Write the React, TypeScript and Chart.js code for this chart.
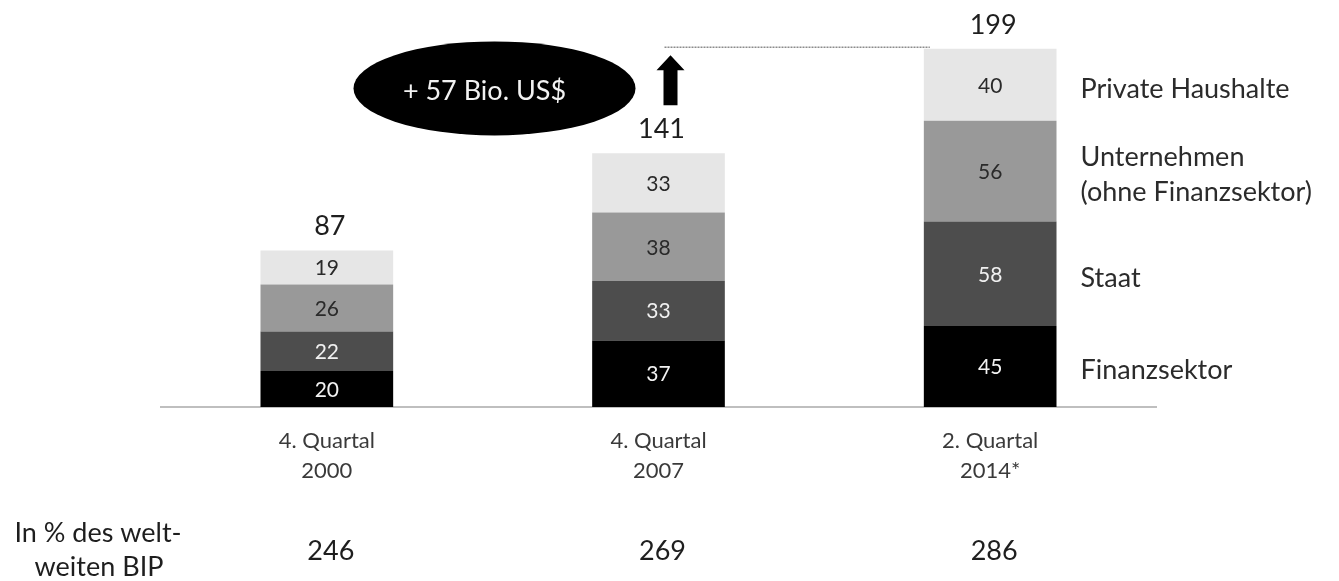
import React, { useEffect, useRef } from "react";
import { Chart, registerables } from "chart.js";

Chart.register(...registerables);

// ---- data ----
const categories = [
  ["4. Quartal", "2000"],
  ["4. Quartal", "2007"],
  ["2. Quartal", "2014*"],
];
const finanzsektor = [20, 37, 45];
const staat = [22, 33, 58];
const unternehmen = [26, 38, 56];
const privateHaushalte = [19, 33, 40];
const totals = [87, 141, 199];
const bipShare = [246, 269, 286];
const seriesNames = ["Finanzsektor", "Staat", "Unternehmen", "Private Haushalte"];
const legendLabels = [
  ["Finanzsektor"],
  ["Staat"],
  ["Unternehmen", "(ohne Finanzsektor)"],
  ["Private Haushalte"],
];
const rowLabel = ["In % des welt-", "weiten BIP"];
const annotationText = "+ 57 Bio. US$";

// ---- styles ----
const FONT = "Lato, 'Open Sans', sans-serif";
const barColors = ["#000000", "#4d4d4d", "#999999", "#e6e6e6"];
const segLabelColors = ["#f2f2f2", "#f0f0f0", "#2a2a2a", "#2a2a2a"];

const overlayPlugin = {
  id: "overlay",
  afterDatasetsDraw(chart: any) {
    const { ctx } = chart;
    const xScale = chart.scales.x;
    const yScale = chart.scales.y;
    const n = chart.data.datasets.length;
    ctx.save();
    ctx.textAlign = "center";
    ctx.textBaseline = "middle";

    // segment labels
    for (let d = 0; d < n; d++) {
      const meta = chart.getDatasetMeta(d);
      const ds = chart.data.datasets[d];
      meta.data.forEach((bar: any, i: number) => {
        ctx.font = `21px ${FONT}`;
        ctx.fillStyle = segLabelColors[d];
        ctx.fillText(String(ds.data[i]), bar.x, (bar.y + bar.base) / 2 + 1);
      });
    }

    // totals above bars
    const topMeta = chart.getDatasetMeta(n - 1);
    topMeta.data.forEach((bar: any, i: number) => {
      ctx.font = `27px ${FONT}`;
      ctx.fillStyle = "#1e1e1e";
      ctx.fillText(String(totals[i]), bar.x + 3, bar.y - 24);
    });

    // legend labels to the right of the last bar
    const last = categories.length - 1;
    ctx.textAlign = "left";
    ctx.font = `27px ${FONT}`;
    ctx.fillStyle = "#2b2b2b";
    for (let d = 0; d < n; d++) {
      const bar: any = chart.getDatasetMeta(d).data[last];
      const cy = (bar.y + bar.base) / 2 + 4;
      const lines = legendLabels[d];
      const lh = 35;
      lines.forEach((ln: string, k: number) => {
        ctx.fillText(ln, bar.x + bar.width / 2 + 24, cy + (k - (lines.length - 1) / 2) * lh);
      });
    }

    // bottom row: share of world GDP
    ctx.textAlign = "center";
    ctx.font = `27px ${FONT}`;
    ctx.fillStyle = "#1e1e1e";
    bipShare.forEach((v, i) => {
      ctx.fillText(String(v), xScale.getPixelForValue(i) + 4, 551);
    });
    ctx.fillText(rowLabel[0], 98, 533);
    ctx.fillText(rowLabel[1], 99, 567);

    // dashed reference line at the height of the last total
    const x1 = xScale.getPixelForValue(1);
    const bar3: any = chart.getDatasetMeta(n - 1).data[last];
    const yTop = yScale.getPixelForValue(totals[last]) - 1.5;
    ctx.strokeStyle = "#8c8c8c";
    ctx.lineWidth = 1.5;
    ctx.setLineDash([2, 1]);
    ctx.beginPath();
    ctx.moveTo(x1 + 6, yTop);
    ctx.lineTo(bar3.x - bar3.width / 2 + 6, yTop);
    ctx.stroke();
    ctx.setLineDash([]);

    // arrow
    const ax = x1 + 12;
    const aTop = yTop + 8;
    ctx.fillStyle = "#000000";
    ctx.beginPath();
    ctx.moveTo(ax, aTop);
    ctx.lineTo(ax + 14, aTop + 15);
    ctx.lineTo(ax + 7, aTop + 15);
    ctx.lineTo(ax + 7, aTop + 50);
    ctx.lineTo(ax - 7, aTop + 50);
    ctx.lineTo(ax - 7, aTop + 15);
    ctx.lineTo(ax - 14, aTop + 15);
    ctx.closePath();
    ctx.fill();

    // ellipse annotation
    const ex = x1 - 164;
    const ey = yScale.getPixelForValue(177);
    ctx.beginPath();
    ctx.ellipse(ex, ey, 141, 47, 0, 0, Math.PI * 2);
    ctx.fill();
    ctx.fillStyle = "#f2f2f2";
    ctx.font = `27px ${FONT}`;
    ctx.fillText(annotationText, ex - 10, ey + 3);

    ctx.restore();
  },
};

export default function App() {
  const ref = useRef<HTMLCanvasElement | null>(null);
  useEffect(() => {
    if (!ref.current) return;
    const series = [finanzsektor, staat, unternehmen, privateHaushalte];
    const chart = new Chart(ref.current, {
      type: "bar",
      data: {
        labels: categories,
        datasets: series.map((s, i) => ({
          label: seriesNames[i],
          data: s,
          backgroundColor: barColors[i],
          borderWidth: 0,
          barPercentage: 0.4,
          categoryPercentage: 1,
        })),
      },
      options: {
        animation: false,
        responsive: false,
        layout: { padding: { left: 161, right: 183, top: 47, bottom: 0 } },
        plugins: { legend: { display: false }, tooltip: { enabled: false } },
        scales: {
          x: {
            stacked: true,
            grid: { display: false, drawTicks: false },
            border: { display: true, color: "#bfbfbf", width: 2 },
            ticks: {
              padding: 19,
              color: "#3a3a3a",
              font: { family: FONT, size: 22, lineHeight: "30px" as any },
              maxRotation: 0,
              autoSkip: false,
            },
            afterFit: (scale: any) => {
              scale.height = 174;
            },
          },
          y: { stacked: true, display: false, min: 0, max: 200 },
        },
      },
      plugins: [overlayPlugin],
    } as any);
    return () => chart.destroy();
  }, []);
  return (
    <div style={{ position: "absolute", left: 0, top: 0, width: 1339, height: 581, background: "#fff" }}>
      <canvas ref={ref} width={1339} height={581} style={{ display: "block" }} />
    </div>
  );
}
